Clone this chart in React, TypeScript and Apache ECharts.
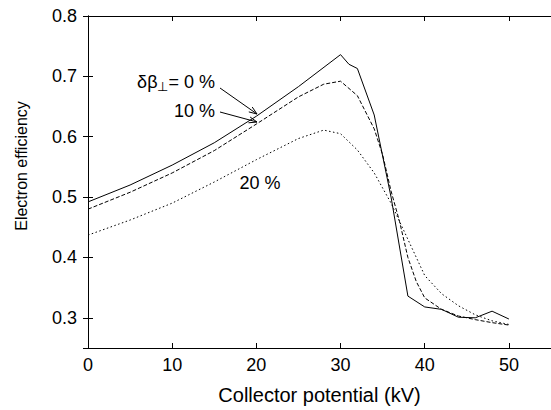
import React, { useEffect, useRef } from "react";
import * as echarts from "echarts";

const voltage0 = [0, 5, 10, 15, 20, 25, 30, 31, 32, 34, 36, 38, 40, 42, 44, 46, 48, 50];
const eff0 = [0.492, 0.52, 0.553, 0.59, 0.634, 0.683, 0.736, 0.72, 0.713, 0.636, 0.5, 0.336, 0.318, 0.314, 0.301, 0.3, 0.311, 0.298];

const voltage10 = [0, 5, 10, 15, 20, 25, 28, 30, 32, 34, 35, 36, 37, 38, 39, 40, 42, 44, 46, 48, 50];
const eff10 = [0.48, 0.508, 0.54, 0.577, 0.621, 0.666, 0.687, 0.692, 0.668, 0.613, 0.57, 0.51, 0.46, 0.4, 0.36, 0.333, 0.314, 0.303, 0.297, 0.292, 0.288];

const voltage20 = [0, 5, 10, 15, 20, 25, 28, 30, 32, 34, 36, 38, 40, 42, 44, 46, 48, 50];
const eff20 = [0.437, 0.462, 0.49, 0.525, 0.562, 0.597, 0.611, 0.605, 0.578, 0.54, 0.49, 0.43, 0.37, 0.34, 0.32, 0.305, 0.295, 0.289];

const xTitle = "Collector potential (kV)";
const yTitle = "Electron efficiency";

const FONT = "'Liberation Sans', Arial, Helvetica, sans-serif";

const pairs = (xs: number[], ys: number[]) => xs.map((x, i) => [x, ys[i]]);

export default function App() {
  const ref = useRef<HTMLDivElement>(null);
  useEffect(() => {
    if (!ref.current) return;
    const chart = echarts.init(ref.current, undefined, { renderer: "svg" });
    const axisLine = { show: true, lineStyle: { color: "#000", width: 1 } };
    const tick = { show: true, inside: true, length: 5, lineStyle: { color: "#000", width: 1 } };
    const lbl = { color: "#000", fontSize: 18, fontFamily: FONT };
    const lineSeries = (data: number[][], type: any) => ({
      type: "line",
      data,
      showSymbol: false,
      symbol: "none",
      lineStyle: { color: "#000", width: 1, type },
      xAxisIndex: 0,
      yAxisIndex: 0,
    });
    chart.setOption({
      animation: false,
      backgroundColor: "#fff",
      grid: { left: 88, right: -3, top: 16, bottom: 62, containLabel: false },
      xAxis: [
        {
          type: "value",
          min: 0,
          max: 55,
          interval: 10,
          position: "bottom",
          axisLine,
          axisTick: tick,
          splitLine: { show: false },
          axisLabel: { ...lbl, margin: 8, showMaxLabel: false },
          name: xTitle,
          nameLocation: "middle",
          nameGap: 37,
          nameTextStyle: { color: "#000", fontSize: 20, fontFamily: FONT },
        },
        {
          type: "value",
          min: 0,
          max: 55,
          interval: 10,
          position: "top",
          axisLine,
          axisTick: tick,
          splitLine: { show: false },
          axisLabel: { show: false },
        },
      ],
      yAxis: [
        {
          type: "value",
          min: 0.25,
          max: 0.8,
          splitNumber: 5,
          position: "left",
          axisLine,
          axisTick: tick,
          splitLine: { show: false },
          axisLabel: {
            ...lbl,
            margin: 11,
            showMinLabel: false,
            formatter: (v: number) => v.toFixed(1),
          },
        },
        {
          type: "value",
          min: 0.25,
          max: 0.8,
          splitNumber: 5,
          position: "right",
          axisLine,
          axisTick: tick,
          splitLine: { show: false },
          axisLabel: { show: false },
        },
      ],
      series: [
        lineSeries(pairs(voltage0, eff0), "solid"),
        lineSeries(pairs(voltage10, eff10), [4, 2]),
        lineSeries(pairs(voltage20, eff20), [1.5, 2.5]),
      ],
      graphic: [
        {
          type: "text",
          x: 21,
          y: 166,
          rotation: Math.PI / 2,
          style: {
            text: yTitle,
            fill: "#000",
            font: `16px ${FONT}`,
            align: "center",
            verticalAlign: "middle",
          },
        },
        {
          type: "text",
          x: 215,
          y: 82,
          style: {
            text: "δβ{sub|⊥}= 0 %",
            fill: "#000",
            font: `18px ${FONT}`,
            align: "right",
            verticalAlign: "middle",
            rich: {
              sub: { fontSize: 13, fontFamily: FONT, fill: "#000", padding: [9, 0, 0, 0] },
            },
          },
        },
        {
          type: "text",
          x: 215,
          y: 111,
          style: { text: "10 %", fill: "#000", font: `18px ${FONT}`, align: "right", verticalAlign: "middle" },
        },
        {
          type: "text",
          x: 260,
          y: 183,
          style: { text: "20 %", fill: "#000", font: `18px ${FONT}`, align: "center", verticalAlign: "middle" },
        },
        { type: "line", shape: { x1: 220, y1: 88, x2: 257, y2: 114 }, style: { stroke: "#000", lineWidth: 1 } },
        {
          type: "polyline",
          shape: { points: [[248.8, 111.9], [257, 114], [252.2, 107.0]] },
          style: { stroke: "#000", lineWidth: 1, fill: "none" },
        },
        { type: "line", shape: { x1: 220, y1: 112, x2: 257, y2: 122 }, style: { stroke: "#000", lineWidth: 1 } },
        {
          type: "polyline",
          shape: { points: [[248.5, 122.8], [257, 122], [250.1, 117.0]] },
          style: { stroke: "#000", lineWidth: 1, fill: "none" },
        },
      ],
    });
    return () => chart.dispose();
  }, []);
  return <div ref={ref} style={{ position: "fixed", left: 0, top: 0, width: 551, height: 410 }} />;
}
